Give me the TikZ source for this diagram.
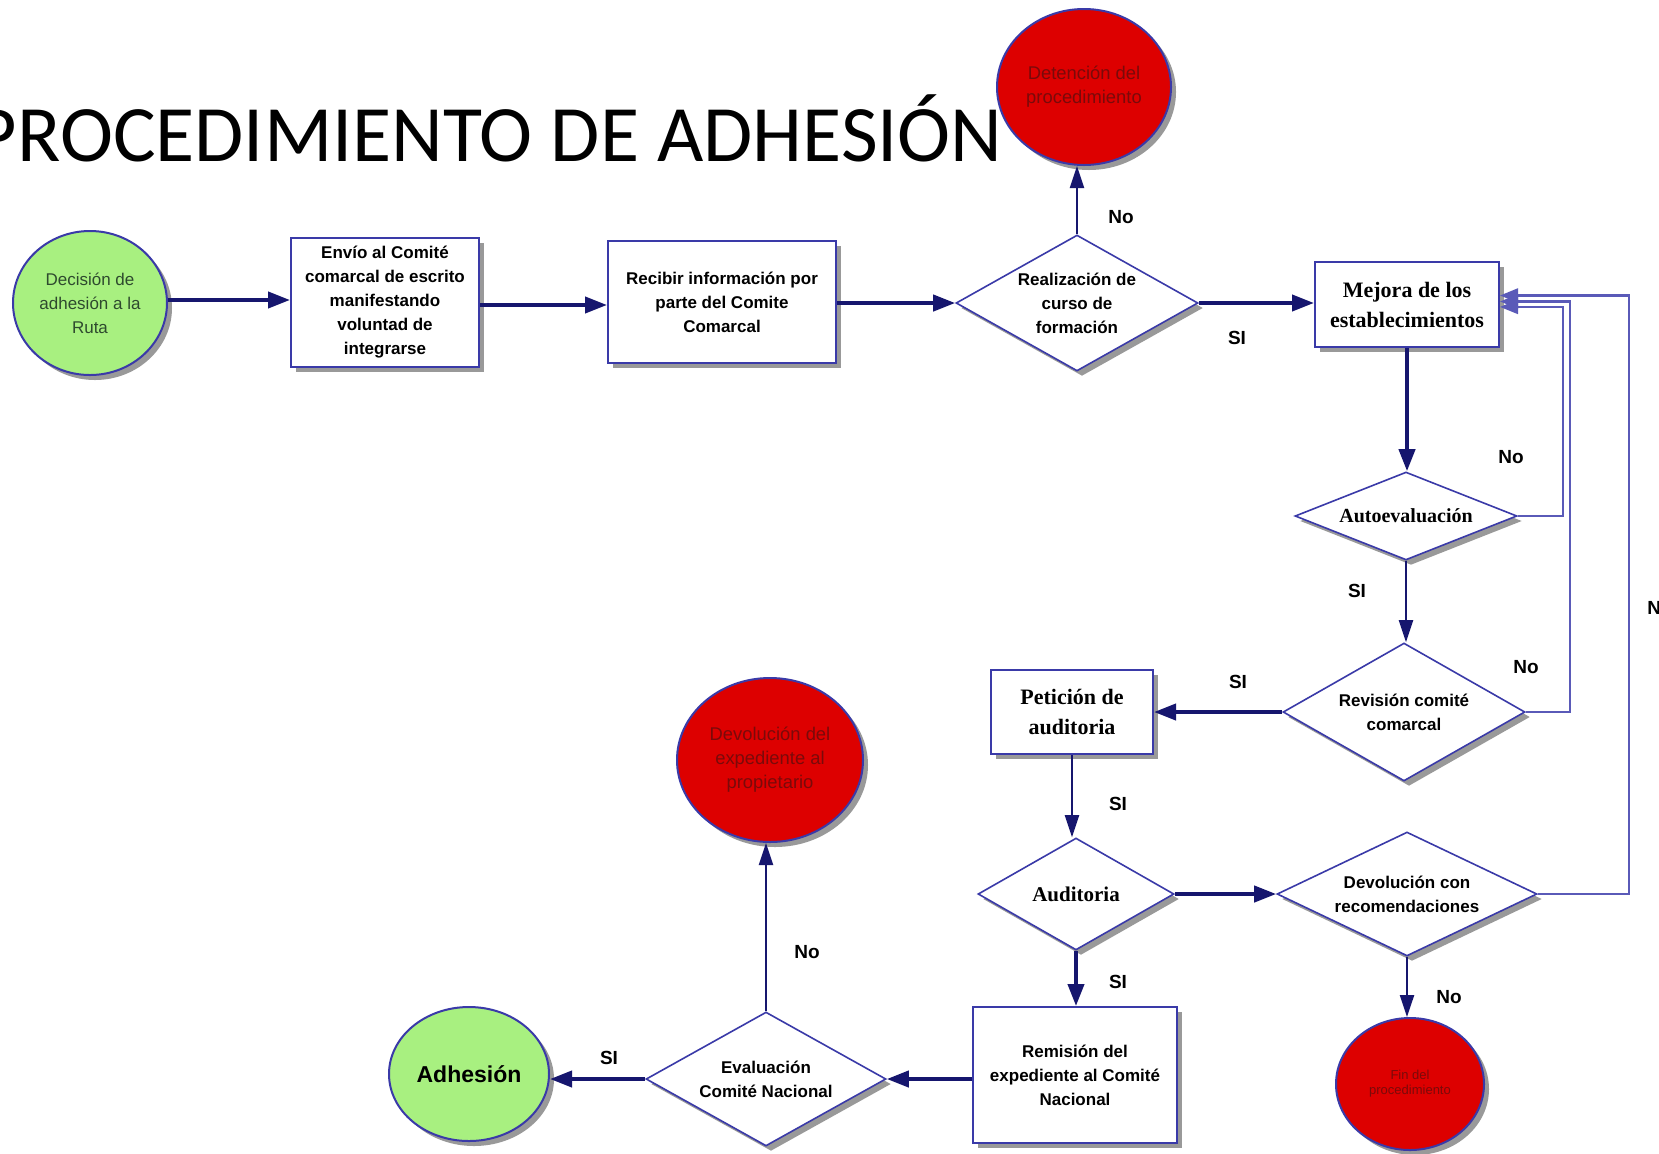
\documentclass[tikz,border=0pt]{standalone}
\usepackage{fontspec}
\setmainfont{Liberation Sans}
\newfontfamily\titlefont{Carlito}
\newfontfamily\serifbf{Liberation Serif}
\usetikzlibrary{shapes.geometric,arrows.meta,shadows}
\definecolor{arrc}{HTML}{16166E}
\definecolor{bordc}{HTML}{3A3AA8}
\definecolor{fbc}{HTML}{5A5AB8}
\definecolor{greenf}{HTML}{A8F080}
\definecolor{redf}{HTML}{DD0000}
\definecolor{redt}{HTML}{7A0A0A}
\definecolor{greent}{HTML}{2E4A2E}
\tikzset{
  sh/.style={drop shadow={shadow xshift=2.5pt,shadow yshift=-2.5pt,fill=black!40,opacity=1}},
  boxn/.style={rectangle, draw=bordc, line width=1pt, fill=white, sh, align=center, inner sep=0pt,
    font=\bfseries\fontsize{8.5}{12}\selectfont},
  serifbox/.style={boxn, font=\serifbf\bfseries\fontsize{11}{15}\selectfont},
  decn/.style={diamond, draw=bordc, line width=0.8pt, fill=white, sh, align=center, inner sep=0pt,
    font=\bfseries\fontsize{8.5}{12}\selectfont},
  redc/.style={ellipse, draw=bordc, line width=1pt, fill=redf, sh, align=center, inner sep=0pt,
    text=redt, font=\fontsize{9.2}{12}\selectfont},
  greenc/.style={ellipse, draw=bordc, line width=1pt, fill=greenf, sh, align=center, inner sep=0pt,
    text=greent, font=\fontsize{8.5}{12}\selectfont},
  mainarrow/.style={draw=arrc, line width=2pt, -{Triangle[length=11pt,width=8pt]}},
  thinarrow/.style={draw=arrc, line width=1.1pt, -{Triangle[length=11pt,width=7pt]}},
  fb/.style={draw=fbc, line width=1.1pt, -{Triangle[length=9pt,width=7pt]}},
  lbl/.style={font=\bfseries\fontsize{9.5}{10}\selectfont, inner sep=0pt},
}
\begin{document}
\begin{tikzpicture}[x=0.5pt,y=-0.5pt]
\useasboundingbox (0,0) rectangle (1659,1153);
\fill[white] (0,0) rectangle (1659,1153);

% title
\node[anchor=base east, inner sep=0pt, font=\titlefont\fontsize{40}{40}\selectfont] (title) at (1003,161) {PROCEDIMIENTO DE ADHESIÓN};

% nodes
\node[greenc, minimum width=77pt, minimum height=72pt] (dec) at (90,303) {Decisión de\\adhesión a la\\Ruta};
\node[boxn, minimum width=94pt, minimum height=64.5pt] (env) at (385,302.5) {Envío al Comité\\comarcal de escrito\\manifestando\\voluntad de\\integrarse};
\node[boxn, minimum width=114pt, minimum height=61pt] (rec) at (722,302) {Recibir información por\\parte del Comite\\Comarcal};
\node[decn, shape aspect=1.78, minimum width=121pt, minimum height=68pt] (real) at (1077,303) {Realización de\\curso de\\formación};
\node[redc, minimum width=87pt, minimum height=78pt] (det) at (1084,87) {Detención del\\procedimiento};
\node[serifbox, minimum width=92pt, minimum height=42.5pt] (mej) at (1407,304.5) {Mejora de los\\establecimientos};
\node[decn, shape aspect=2.5, minimum width=111pt, minimum height=44pt, font=\serifbf\bfseries\fontsize{10}{12}\selectfont] (auto) at (1406,516) {Autoevaluación};
\node[decn, shape aspect=1.75, minimum width=121pt, minimum height=69pt] (rev) at (1404,712) {Revisión comité\\comarcal};
\node[serifbox, minimum width=81pt, minimum height=42pt] (pet) at (1072,712) {Petición de\\auditoria};
\node[decn, shape aspect=1.75, minimum width=98pt, minimum height=56pt, font=\serifbf\bfseries\fontsize{10.5}{12}\selectfont] (aud) at (1076,894) {Auditoria};
\node[decn, shape aspect=2.1, minimum width=130pt, minimum height=62pt] (devrec) at (1407,894) {Devolución con\\recomendaciones};
\node[redc, minimum width=74pt, minimum height=66pt, font=\fontsize{6.5}{7.5}\selectfont] (fin) at (1410,1084) {Fin del\\procedimiento};
\node[boxn, minimum width=102pt, minimum height=68pt] (rem) at (1075,1075) {Remisión del\\expediente al Comité\\Nacional};
\node[decn, shape aspect=1.8, minimum width=120pt, minimum height=67pt] (eval) at (766,1079) {Evaluación\\Comité Nacional};
\node[greenc, minimum width=80pt, minimum height=67pt, text=black, font=\bfseries\fontsize{11.5}{12}\selectfont] (adh) at (469,1074) {Adhesión};
\node[redc, minimum width=93pt, minimum height=82pt] (devexp) at (770,760) {Devolución del\\expediente al\\propietario};

% main connectors
\draw[mainarrow] (dec.east |- 0,300) -- (env.west |- 0,300);
\draw[mainarrow] (env.east |- 0,305) -- (rec.west |- 0,305);
\draw[mainarrow] (rec.east |- real.west) -- (real.west);
\draw[mainarrow] (real.east) -- (mej.west |- real.east);
\draw[thinarrow] (real.north) -- (real.north |- det.south);
\draw[mainarrow] (mej.south) -- (mej.south |- auto.north);
\draw[thinarrow] (auto.south) -- (auto.south |- rev.north);
\draw[mainarrow] (rev.west) -- (rev.west -| pet.east);
\draw[thinarrow] (pet.south) -- (pet.south |- aud.north);
\draw[mainarrow] (aud.east) -- (devrec.west);
\draw[mainarrow] (aud.south) -- (aud.south |- rem.north);
\draw[thinarrow] (devrec.south) -- (devrec.south |- fin.north);
\draw[mainarrow] (rem.west |- eval.east) -- (eval.east);
\draw[mainarrow] (eval.west) -- (adh.east |- eval.west);
\draw[thinarrow] (eval.north) -- (eval.north |- devexp.south);

% feedback connectors
\coordinate (fa) at ([yshift=-1.2pt]mej.east);
\coordinate (fb1) at ([yshift=1.5pt]mej.east);
\coordinate (fc) at ([yshift=4.5pt]mej.east);
\draw[fb] (auto.east) -- (1563,516) |- (fa);
\draw[fb] (rev.east) -- (1570,712) |- (fb1);
\draw[fb] (devrec.east) -- (1629,894) |- (fc);

% labels
\node[lbl] (l1) at (1121,217) {No};
\node[lbl] (l2) at (1237,338) {SI};
\node[lbl] (l3) at (1511,457) {No};
\node[lbl] (l4) at (1357,591) {SI};
\node[lbl] (l5) at (1526,667) {No};
\node[lbl] (l6) at (1238,682) {SI};
\node[lbl] (l7) at (1118,804) {SI};
\node[lbl] (l8) at (1118,982) {SI};
\node[lbl] (l9) at (1449,997) {No};
\node[lbl] (l10) at (609,1058) {SI};
\node[lbl] (l11) at (807,952) {No};
\node[lbl, anchor=west] (l12) at (1647,608) {No};
\end{tikzpicture}
\end{document}
